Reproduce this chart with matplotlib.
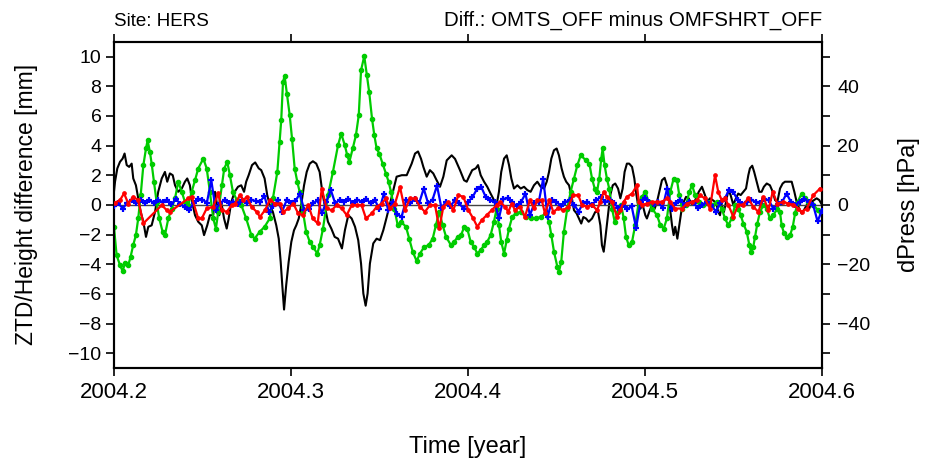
"""
plot.py
ZTD / station height differences between two processing runs at HERS,
together with the pressure difference (right axis).
"""

import numpy as np
import matplotlib
matplotlib.use('Agg')
import matplotlib.pyplot as plt
import matplotlib.ticker as ticker

plt.rcParams['font.family'] = ['Liberation Sans', 'DejaVu Sans']

SITE = 'HERS'
DIFF_LABEL = 'Diff.: OMTS_OFF minus OMFSHRT_OFF'

# Pressure difference [hPa]
press_t = [
    2004.2000, 2004.2006, 2004.2019, 2004.2034, 2004.2049, 2004.2060, 2004.2072, 2004.2086, 2004.2100, 2004.2109,
    2004.2124, 2004.2137, 2004.2151, 2004.2166, 2004.2181, 2004.2194, 2004.2213, 2004.2232, 2004.2250, 2004.2270,
    2004.2288, 2004.2301, 2004.2316, 2004.2332, 2004.2345, 2004.2363, 2004.2383, 2004.2401, 2004.2414, 2004.2429,
    2004.2445, 2004.2458, 2004.2476, 2004.2496, 2004.2509, 2004.2527, 2004.2542, 2004.2561, 2004.2571, 2004.2580,
    2004.2595, 2004.2609, 2004.2622, 2004.2637, 2004.2648, 2004.2663, 2004.2682, 2004.2701, 2004.2719, 2004.2735,
    2004.2747, 2004.2761, 2004.2780, 2004.2798, 2004.2818, 2004.2832, 2004.2851, 2004.2866, 2004.2880, 2004.2898,
    2004.2917, 2004.2931, 2004.2942, 2004.2951, 2004.2961, 2004.2973, 2004.2987, 2004.3002, 2004.3017, 2004.3030,
    2004.3044, 2004.3058, 2004.3074, 2004.3089, 2004.3106, 2004.3124, 2004.3143, 2004.3162, 2004.3177, 2004.3194,
    2004.3209, 2004.3228, 2004.3247, 2004.3266, 2004.3288, 2004.3305, 2004.3324, 2004.3343, 2004.3362, 2004.3380,
    2004.3396, 2004.3409, 2004.3422, 2004.3433, 2004.3446, 2004.3465, 2004.3484, 2004.3503, 2004.3522, 2004.3541,
    2004.3569, 2004.3597, 2004.3626, 2004.3654, 2004.3682, 2004.3701, 2004.3718, 2004.3735, 2004.3748, 2004.3767,
    2004.3785, 2004.3804, 2004.3823, 2004.3842, 2004.3861, 2004.3880, 2004.3908, 2004.3927, 2004.3955, 2004.3978,
    2004.3993, 2004.4006, 2004.4024, 2004.4044, 2004.4057, 2004.4072, 2004.4091, 2004.4109, 2004.4128, 2004.4147,
    2004.4162, 2004.4175, 2004.4188, 2004.4204, 2004.4219, 2004.4232, 2004.4245, 2004.4260, 2004.4279, 2004.4298,
    2004.4317, 2004.4335, 2004.4354, 2004.4373, 2004.4392, 2004.4411, 2004.4430, 2004.4445, 2004.4458, 2004.4471,
    2004.4486, 2004.4501, 2004.4514, 2004.4529, 2004.4542, 2004.4555, 2004.4571, 2004.4584, 2004.4599, 2004.4614,
    2004.4627, 2004.4640, 2004.4652, 2004.4667, 2004.4682, 2004.4701, 2004.4719, 2004.4735, 2004.4748, 2004.4757,
    2004.4767, 2004.4776, 2004.4791, 2004.4804, 2004.4818, 2004.4832, 2004.4848, 2004.4861, 2004.4874, 2004.4885,
    2004.4898, 2004.4911, 2004.4927, 2004.4940, 2004.4949, 2004.4961, 2004.4974, 2004.4987, 2004.5002, 2004.5011,
    2004.5024, 2004.5040, 2004.5055, 2004.5068, 2004.5081, 2004.5096, 2004.5111, 2004.5124, 2004.5137, 2004.5153,
    2004.5162, 2004.5171, 2004.5183, 2004.5194, 2004.5205, 2004.5219, 2004.5232, 2004.5247, 2004.5266, 2004.5284,
    2004.5304, 2004.5322, 2004.5339, 2004.5352, 2004.5367, 2004.5383, 2004.5396, 2004.5405, 2004.5414, 2004.5424,
    2004.5434, 2004.5446, 2004.5458, 2004.5471, 2004.5484, 2004.5499, 2004.5514, 2004.5527, 2004.5541, 2004.5556,
    2004.5571, 2004.5584, 2004.5593, 2004.5606, 2004.5617, 2004.5631, 2004.5646, 2004.5659, 2004.5672, 2004.5688,
    2004.5706, 2004.5722, 2004.5735, 2004.5748, 2004.5763, 2004.5778, 2004.5791, 2004.5810, 2004.5829, 2004.5844,
    2004.5857, 2004.5872, 2004.5885, 2004.5898, 2004.5914, 2004.5928, 2004.5942, 2004.5955, 2004.5970, 2004.5985,
    2004.6000,
]
press_hpa = [
    4.4, 7.8, 12.3, 14.5, 15.6, 17.3, 13.4, 12.8, 13.9, 8.9,
    6.6, 2.2, -2.4, -5.7, -10.8, -7.4, -6.9, -2.4, 4.4, 8.9,
    11.1, 7.8, 10.6, 10.0, 6.6, 4.4, 5.5, 7.8, 8.9, 6.6,
    0.0, -3.5, -5.7, -6.9, -10.2, -6.9, -3.5, -3.5, 4.4, 1.0,
    -3.5, 0.0, -4.6, -8.0, -4.6, 1.0, 4.4, 6.1, 6.6, 4.4,
    7.8, 10.0, 13.4, 14.3, 12.3, 11.7, 8.9, 3.3, 0.0, -2.4,
    -6.9, -11.4, -19.2, -27.1, -35.3, -27.1, -19.2, -12.5, -8.6, -6.9,
    -4.6, 0.0, 6.6, 11.1, 13.9, 14.7, 13.9, 11.1, 4.4, -1.3,
    -5.7, -8.0, -10.8, -11.4, -14.7, -8.5, -3.5, -4.6, -7.4, -11.9,
    -19.8, -29.9, -34.0, -29.9, -19.8, -13.0, -11.4, -11.9, -8.5, -4.1,
    2.7, 9.5, 10.0, 10.0, 13.9, 17.3, 18.0, 15.5, 12.8, 9.5,
    11.7, 10.6, 8.3, 6.1, 9.5, 15.0, 16.7, 15.5, 11.7, 8.3,
    7.8, 9.5, 11.7, 12.3, 13.4, 10.0, 7.8, 6.1, 3.8, 1.6,
    0.0, 4.4, 11.1, 15.6, 16.7, 13.4, 8.9, 5.5, 6.6, 5.5,
    6.1, 5.0, 4.4, 6.6, 7.8, 6.1, 5.5, 7.8, 11.1, 15.6,
    18.4, 19.0, 16.7, 12.3, 9.5, 7.8, 6.6, 3.3, -1.8, -2.9,
    -4.6, -6.3, -4.1, -4.6, -5.7, -4.6, -2.4, -2.4, -6.9, -13.6,
    -15.8, -11.4, -3.5, 3.3, 6.6, 7.2, 5.5, 2.2, 5.5, 11.1,
    13.9, 13.9, 12.8, 8.9, 4.4, 0.0, -1.3, 0.0, -3.5, -4.6,
    -2.4, 0.0, -1.3, 1.0, 4.4, 8.3, 9.1, 6.6, 1.0, -6.9,
    -10.2, -7.4, -11.4, -6.9, -2.4, 1.0, 2.7, 2.2, 0.0, 1.6,
    4.4, 6.1, 3.3, 1.0, 2.2, 1.6, 1.0, 0.0, -2.4, -3.5,
    0.0, -2.4, 1.0, 5.0, 3.3, 0.0, 2.2, 3.8, 3.3, 4.4,
    5.5, 10.0, 12.3, 13.2, 11.1, 7.8, 4.4, 4.4, 6.1, 7.2,
    6.6, 4.4, 1.6, 1.0, 5.5, 7.2, 7.8, 7.8, 7.8, 4.4,
    1.0, -1.3, -2.9, -1.8, 0.0, -1.3, 1.0, 1.6, 2.2, 1.6,
    0.0,
]

# ZTD difference [mm]
ztd_t = [
    2004.2000, 2004.2015, 2004.2034, 2004.2049, 2004.2062, 2004.2081, 2004.2094, 2004.2109, 2004.2124, 2004.2137,
    2004.2151, 2004.2166, 2004.2181, 2004.2190, 2004.2203, 2004.2213, 2004.2226, 2004.2241, 2004.2256, 2004.2275,
    2004.2288, 2004.2307, 2004.2326, 2004.2345, 2004.2363, 2004.2383, 2004.2401, 2004.2420, 2004.2439, 2004.2458,
    2004.2476, 2004.2505, 2004.2524, 2004.2542, 2004.2561, 2004.2576, 2004.2589, 2004.2609, 2004.2623, 2004.2640,
    2004.2655, 2004.2672, 2004.2695, 2004.2719, 2004.2747, 2004.2776, 2004.2795, 2004.2823, 2004.2851, 2004.2880,
    2004.2898, 2004.2923, 2004.2936, 2004.2945, 2004.2955, 2004.2964, 2004.2977, 2004.2993, 2004.3006, 2004.3021,
    2004.3036, 2004.3049, 2004.3068, 2004.3086, 2004.3106, 2004.3124, 2004.3149, 2004.3162, 2004.3181, 2004.3209,
    2004.3237, 2004.3266, 2004.3284, 2004.3304, 2004.3318, 2004.3330, 2004.3349, 2004.3367, 2004.3383, 2004.3396,
    2004.3414, 2004.3429, 2004.3442, 2004.3458, 2004.3471, 2004.3484, 2004.3499, 2004.3518, 2004.3537, 2004.3552,
    2004.3565, 2004.3584, 2004.3603, 2004.3622, 2004.3650, 2004.3668, 2004.3688, 2004.3710, 2004.3729, 2004.3753,
    2004.3778, 2004.3801, 2004.3819, 2004.3838, 2004.3857, 2004.3876, 2004.3904, 2004.3923, 2004.3942, 2004.3961,
    2004.3979, 2004.3996, 2004.4015, 2004.4034, 2004.4053, 2004.4072, 2004.4091, 2004.4109, 2004.4128, 2004.4147,
    2004.4162, 2004.4175, 2004.4188, 2004.4204, 2004.4219, 2004.4232, 2004.4250, 2004.4270, 2004.4298, 2004.4326,
    2004.4354, 2004.4383, 2004.4411, 2004.4439, 2004.4458, 2004.4471, 2004.4486, 2004.4505, 2004.4514, 2004.4527,
    2004.4542, 2004.4561, 2004.4580, 2004.4599, 2004.4618, 2004.4637, 2004.4667, 2004.4686, 2004.4701, 2004.4716,
    2004.4729, 2004.4742, 2004.4753, 2004.4761, 2004.4772, 2004.4785, 2004.4798, 2004.4814, 2004.4829, 2004.4848,
    2004.4866, 2004.4880, 2004.4893, 2004.4908, 2004.4927, 2004.4945, 2004.4965, 2004.4983, 2004.5002, 2004.5021,
    2004.5040, 2004.5068, 2004.5087, 2004.5106, 2004.5124, 2004.5143, 2004.5162, 2004.5181, 2004.5194, 2004.5209,
    2004.5232, 2004.5251, 2004.5266, 2004.5284, 2004.5304, 2004.5330, 2004.5349, 2004.5377, 2004.5405, 2004.5434,
    2004.5452, 2004.5471, 2004.5490, 2004.5509, 2004.5527, 2004.5541, 2004.5556, 2004.5575, 2004.5590, 2004.5599,
    2004.5612, 2004.5622, 2004.5635, 2004.5650, 2004.5669, 2004.5688, 2004.5706, 2004.5725, 2004.5748, 2004.5763,
    2004.5772, 2004.5786, 2004.5801, 2004.5820, 2004.5835, 2004.5848, 2004.5863, 2004.5885, 2004.5904, 2004.5922,
    2004.5951, 2004.5979, 2004.5993,
]
ztd_mm = [
    -1.48, -3.40, -4.06, -4.47, -3.95, -4.06, -3.50, -2.70, -2.04, -0.92,
    0.65, 2.67, 3.80, 4.35, 3.57, 2.78, 1.55, 0.20, -0.92, -1.82,
    -2.04, -0.92, -0.25, 0.43, 1.55, 0.88, 0.20, -0.02, 0.88, 1.66,
    2.45, 3.12, 2.45, 0.88, -0.92, -1.60, -0.47, 1.32, 2.45, 2.90,
    2.00, 0.88, 0.30, 0.00, -0.92, -2.04, -2.27, -1.82, -1.48, -0.92,
    0.43, 2.22, 4.24, 5.70, 8.28, 8.69, 7.50, 6.04, 4.47, 2.45,
    1.55, 0.88, -0.47, -1.82, -2.49, -2.83, -3.28, -2.72, -1.60, 0.65,
    2.22, 4.02, 4.80, 4.02, 3.34, 2.90, 3.80, 4.69, 6.04, 9.07,
    10.03, 8.73, 7.60, 5.81, 4.69, 3.80, 3.46, 2.78, 2.11, 1.55,
    0.88, -0.25, -1.37, -1.14, -1.48, -2.27, -3.16, -3.79, -3.28, -2.83,
    -2.72, -2.27, -1.37, -0.47, -1.37, -2.15, -2.72, -2.49, -2.15, -2.04,
    -1.48, -1.60, -2.49, -2.83, -3.28, -3.05, -2.72, -2.49, -2.04, -1.14,
    -0.25, -1.37, -2.49, -3.28, -2.38, -1.60, -0.81, -0.58, -0.47, -0.81,
    -0.92, -0.92, -0.81, -0.58, -1.14, -2.04, -3.16, -4.17, -4.50, -3.84,
    -1.82, -0.25, 0.88, 1.77, 2.67, 3.34, 3.00, 2.78, 1.77, 1.10,
    0.88, 1.77, 3.12, 3.80, 2.67, 1.77, 1.10, -0.25, -1.14, -0.47,
    -0.02, -0.92, -2.15, -2.72, -2.49, -1.37, 0.20, 0.54, 0.88, 0.20,
    -0.25, -0.70, -1.37, -1.60, -0.92, 0.88, 1.77, 1.66, 0.65, -0.25,
    -0.02, 0.88, 1.32, 0.65, 0.20, -0.02, 0.20, -0.02, 0.20, -0.25,
    -0.92, -1.37, -0.92, -0.02, -0.25, -0.70, -1.26, -1.82, -2.72, -3.16,
    -2.83, -2.15, -1.26, -0.47, -0.02, -0.25, -0.92, -0.70, -0.25, -0.47,
    -1.37, -1.93, -2.15, -2.04, -1.48, -0.58, 0.20, 0.76, 0.43, 0.20,
    -0.02, -0.36, -0.58,
]

# Height difference, first component [mm]
hgt_a_t = [
    2004.2006, 2004.2034, 2004.2057, 2004.2081, 2004.2109, 2004.2137, 2004.2166, 2004.2270, 2004.2298, 2004.2316,
    2004.2420, 2004.2439, 2004.2476, 2004.2496, 2004.2524, 2004.2561, 2004.2589, 2004.2609, 2004.2637, 2004.2665,
    2004.2684, 2004.2712, 2004.2731, 2004.2750, 2004.2778, 2004.2806, 2004.2825, 2004.2853, 2004.2881, 2004.2910,
    2004.2938, 2004.2957, 2004.2985, 2004.3013, 2004.3041, 2004.3066, 2004.3098, 2004.3123, 2004.3151, 2004.3174,
    2004.3202, 2004.3230, 2004.3258, 2004.3287, 2004.3315, 2004.3343, 2004.3371, 2004.3399, 2004.3424, 2004.3456,
    2004.3484, 2004.3512, 2004.3537, 2004.3559, 2004.3588, 2004.3616, 2004.3644, 2004.3672, 2004.3701, 2004.3729,
    2004.3757, 2004.3785, 2004.3814, 2004.3838, 2004.3861, 2004.3889, 2004.3917, 2004.3946, 2004.3974, 2004.4002,
    2004.4030, 2004.4053, 2004.4078, 2004.4106, 2004.4134, 2004.4162, 2004.4181, 2004.4209, 2004.4228, 2004.4247,
    2004.4266, 2004.4294, 2004.4322, 2004.4350, 2004.4373, 2004.4392, 2004.4417, 2004.4435, 2004.4460, 2004.4482,
    2004.4510, 2004.4539, 2004.4567, 2004.4595, 2004.4623, 2004.4644, 2004.4672, 2004.4701, 2004.4729, 2004.4748,
    2004.4767, 2004.4785, 2004.4814, 2004.4842, 2004.4861, 2004.4880, 2004.4898, 2004.4927, 2004.4955, 2004.4965,
    2004.4983, 2004.5011, 2004.5040, 2004.5068, 2004.5096, 2004.5124, 2004.5143, 2004.5171, 2004.5209, 2004.5237,
    2004.5266, 2004.5294, 2004.5311, 2004.5339, 2004.5367, 2004.5396, 2004.5414, 2004.5434, 2004.5452, 2004.5471,
    2004.5499, 2004.5527, 2004.5556, 2004.5584, 2004.5612, 2004.5641, 2004.5669, 2004.5697, 2004.5722, 2004.5748,
    2004.5782, 2004.5810, 2004.5839, 2004.5867, 2004.5885, 2004.5914, 2004.5951, 2004.5989,
]
hgt_a_mm = [
    0.14, 0.32, 0.77, 0.09, 0.54, 0.32, -1.25, -0.02, -0.36, -0.47,
    0.43, 0.54, -0.92, -0.92, -0.24, -0.14, 0.77, -0.36, -0.47, -0.02,
    0.09, 0.65, 0.32, 0.54, -0.14, -0.47, -0.81, -0.36, 0.32, 0.09,
    0.09, -0.47, -0.24, 0.09, -0.58, -0.69, -0.02, -0.92, -1.25, 1.10,
    -0.24, -0.36, -0.02, -0.24, -0.69, -0.02, -0.02, -0.02, -0.92, -0.58,
    -0.13, 0.09, 0.43, -0.24, 0.09, 1.21, -0.36, 0.43, 0.43, -0.13,
    -0.47, -0.02, -0.02, -1.59, -0.13, 0.20, -0.36, 0.65, 0.54, -0.36,
    -0.92, -1.48, -1.03, -0.69, -0.36, -0.02, 0.20, -0.13, -0.47, 0.09,
    -0.36, -0.13, -0.81, 0.32, -0.24, 0.32, 0.32, -0.58, 0.32, -0.47,
    -0.24, -0.36, -0.13, 0.65, 0.65, 0.00, -0.13, 0.00, -0.36, 0.20,
    0.88, 0.54, 0.20, -0.81, -0.36, 0.20, 0.54, 0.76, 1.32, 0.20,
    0.00, 0.09, 0.20, 0.20, 0.20, 0.43, 0.20, -0.25, -0.25, 0.09,
    0.20, 0.30, 0.65, 0.43, -0.25, 2.00, 0.88, 0.31, 0.43, 0.00,
    -0.80, 0.00, 0.02, 0.43, -0.13, -0.47, 0.54, -0.36, 0.88, 0.09,
    0.20, 0.09, 0.00, -0.25, -0.47, -0.25, 0.65, 1.10,
]

# Height difference, second component [mm], regular sampling
hgt_b_mm = [
    -0.10, 0.10, -0.25, 0.15, 0.30, 0.10, 0.30, 0.10, 0.30, 0.15,
    0.30, 0.20, 0.30, 0.05, 0.40, 0.05, -0.15, -0.35, 0.10, 0.40,
    0.35, 0.15, 1.65, -0.35, 0.15, 0.30, 0.10, 0.20, 0.05, 0.30,
    0.10, 0.35, 0.25, 0.20, 0.60, -0.45, -0.10, 0.30, -0.45, 0.30,
    0.10, 0.25, 0.75, -0.35, -0.30, 0.10, 0.30, -0.55, 0.20, 1.00,
    0.10, 0.35, 0.20, 0.40, 0.15, 0.35, 0.20, 0.40, 0.10, 0.30,
    -0.30, 0.75, -0.35, 0.20, -0.65, -0.80, 0.30, 0.10, 0.40, 0.15,
    1.10, 0.10, 0.35, 1.30, -0.20, 0.20, -0.10, 0.30, 0.10, -0.25,
    0.20, 0.50, 1.05, 1.20, 0.55, 0.30, 0.20, -0.90, 0.40, 0.45,
    0.20, -0.10, 0.20, 0.75, -0.70, 0.10, 0.20, 1.75, -0.80, 0.30,
    0.20, -0.05, 0.20, 0.30, 0.00, -0.45, 0.10, 0.20, 0.00, 0.30,
    0.55, 0.20, 0.30, 0.10, -0.20, 0.00, -0.30, -0.10, -1.55, 0.20,
    0.45, 0.20, 0.05, 0.20, -0.20, 1.10, -0.25, 0.10, 0.30, 0.00,
    0.20, 0.10, -0.20, 0.00, 0.20, 0.00, -0.45, 0.10, 0.40, 1.00,
    0.85, 0.30, 0.05, 0.20, 0.35, 0.20, 0.10, 0.40, 0.30, -0.25,
    0.05, 0.20, 0.75, 0.20, 0.00, 0.20, 0.40, 0.20, 0.00, -1.10,
    -0.40,
]
hgt_b_t = np.linspace(2004.2, 2004.6, len(hgt_b_mm))

X_TICKS = [2004.2, 2004.3, 2004.4, 2004.5, 2004.6]
MM_TICKS = list(range(-10, 11, 2))
HPA_TICKS = list(range(-50, 51, 10))

fig = plt.figure(figsize=(9.25, 4.66), dpi=100)
ax = fig.add_axes([0.1232, 0.2103, 0.7654, 0.7002])
ax2 = ax.twinx()

# Keep the mm axes above the pressure axes so the pressure curve sits underneath
ax.set_zorder(ax2.get_zorder() + 1)
ax.patch.set_visible(False)

# Pressure difference on the right axis
ax2.plot(press_t, press_hpa, color='black', linewidth=1.5)

# Zero line
ax.axhline(0, color='#444444', linewidth=1.0, zorder=1)

# ZTD and height differences on the left axis
ax.plot(ztd_t, ztd_mm, color='#00cc00', linewidth=1.6, marker='o', markersize=3.0, zorder=2)
ax.plot(hgt_b_t, hgt_b_mm, color='#0000ff', linewidth=1.6, marker='+', markersize=5,
        markeredgewidth=1.6, zorder=3)
ax.plot(hgt_a_t, hgt_a_mm, color='#ff0000', linewidth=1.6, marker='o', markersize=2.4, zorder=4)

ax.set_xlim(2004.2, 2004.6)
ax.set_ylim(-11, 11)
ax2.set_ylim(-55, 55)

ax.set_xticks(X_TICKS)
ax.set_xticklabels(['%.1f' % t for t in X_TICKS])
ax.set_yticks(MM_TICKS)
ax2.set_yticks(HPA_TICKS)
ax2.yaxis.set_major_formatter(ticker.FuncFormatter(
    lambda v, pos: ('%d' % v).replace('-', '\u2212') if int(v) % 20 == 0 and abs(v) < 50 else ''))

ax.tick_params(axis='both', direction='out', length=6, width=1.2)
ax.tick_params(axis='y', labelsize=14, pad=3)
ax.tick_params(axis='x', top=True, labelsize=16, pad=4)
ax2.tick_params(axis='y', direction='out', length=6, width=1.2, labelsize=14, pad=5)

for a in (ax, ax2):
    for side in a.spines.values():
        side.set_linewidth(1.5)

ax.set_xlabel('Time [year]', fontsize=17, labelpad=24)
ax.set_ylabel('ZTD/Height difference [mm]', fontsize=16.5, labelpad=22)
ax2.set_ylabel('dPress [hPa]', fontsize=17, labelpad=20)

ax.text(0.0, 1.035, 'Site: ' + SITE, transform=ax.transAxes, fontsize=13.5, ha='left', va='bottom')
ax.text(1.0, 1.035, DIFF_LABEL, transform=ax.transAxes, fontsize=14.8, ha='right', va='bottom')

fig.savefig('out.png', dpi=100)
